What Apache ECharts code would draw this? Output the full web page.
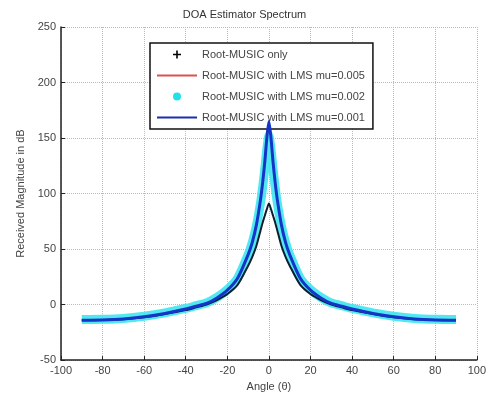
<!DOCTYPE html>
<html>
<head>
<meta charset="utf-8">
<script src="https://cdn.jsdelivr.net/npm/echarts@6/dist/echarts.min.js"></script>
<style>
  html, body { margin: 0; padding: 0; background: #fff; }
  #chart { width: 489px; height: 397px; }
</style>
</head>
<body>
<div id="chart"></div>
<script>
// angle samples (deg)
var angles = [-90, -80, -70, -60, -50, -40, -35, -30, -25, -20, -15, -10, -8, -6, -4, -3, -2, -1, 0,
  1, 2, 3, 4, 6, 8, 10, 15, 20, 25, 30, 35, 40, 50, 60, 70, 80, 90]

// magnitudes in dB
var rootOnly = [-14, -13.8, -13.2, -11.5, -8.5, -5, -2.5, 0, 4, 9.5, 18, 35, 43, 53, 67, 74, 80, 86, 91,
  86, 80, 74, 67, 53, 43, 35, 18, 9.5, 4, 0, -2.5, -5, -8.5, -11.5, -13.2, -13.8, -14]
var mu005 = [-14, -13.8, -13, -11, -8, -4, -1.5, 1, 6, 13, 24, 45, 56, 72, 95, 110, 128, 150, 163,
  150, 128, 110, 95, 72, 56, 45, 24, 13, 6, 1, -1.5, -4, -8, -11, -13, -13.8, -14]
var mu002 = [-13.5, -13.3, -12.5, -10.5, -7.5, -3.5, -1, 1.5, 6.5, 13.5, 24, 45, 56, 71, 92, 106, 122, 140, 152,
  140, 122, 106, 92, 71, 56, 45, 24, 13.5, 6.5, 1.5, -1, -3.5, -7.5, -10.5, -12.5, -13.3, -13.5]
var mu001 = [-14, -13.8, -13, -11, -8, -4, -1.5, 1, 6, 13, 24, 45, 56, 72, 95, 110, 128, 150, 165,
  150, 128, 110, 95, 72, 56, 45, 24, 13, 6, 1, -1.5, -4, -8, -11, -13, -13.8, -14]

var xTicks = { min: -100, max: 100, interval: 20 }
var yTicks = { min: -50, max: 250, interval: 50 }

function pairs(ys) {
  return angles.map(function (a, i) { return [a, ys[i]] })
}

var font = 'Liberation Sans, Arial, sans-serif'
var plusIcon = 'path://M4,0 L6,0 L6,4 L10,4 L10,6 L6,6 L6,10 L4,10 L4,6 L0,6 L0,4 L4,4 Z'
var lineIcon = 'path://M0,0 L40,0 L40,2 L0,2 Z'

var chart = echarts.init(document.getElementById('chart'))
chart.setOption({
  animation: false,
  backgroundColor: '#fff',
  title: {
    text: 'DOA Estimator Spectrum',
    left: 'center',
    top: 4,
    textStyle: { fontFamily: font, fontSize: 11, fontWeight: 'normal', color: '#333' }
  },
  legend: {
    orient: 'vertical',
    left: 150,
    top: 43,
    width: 243,
    padding: [6, 8, 6, 7],
    itemWidth: 40,
    itemHeight: 8,
    itemGap: 10,
    backgroundColor: '#fff',
    borderColor: '#111',
    borderWidth: 1.5,
    borderRadius: 0,
    textStyle: { fontFamily: font, fontSize: 11, color: '#444' },
    data: [
      { name: 'Root-MUSIC only', icon: plusIcon, itemStyle: { color: '#000' } },
      { name: 'Root-MUSIC with LMS mu=0.005', icon: lineIcon, itemStyle: { color: '#d9534f' } },
      { name: 'Root-MUSIC with LMS mu=0.002', icon: 'circle', itemStyle: { color: '#22e0e8' } },
      { name: 'Root-MUSIC with LMS mu=0.001', icon: lineIcon, itemStyle: { color: '#1a2fb0' } }
    ]
  },
  grid: { left: 61, right: 6, top: 27, bottom: 36 },
  xAxis: {
    type: 'value',
    min: xTicks.min,
    max: xTicks.max,
    interval: xTicks.interval,
    name: 'Angle (\u03b8)',
    nameLocation: 'middle',
    nameGap: 19,
    nameTextStyle: { fontFamily: font, fontSize: 11, color: '#444' },
    axisLine: { onZero: false, lineStyle: { color: '#222', width: 1.5 } },
    axisTick: { inside: true, length: 4, lineStyle: { color: '#222' } },
    axisLabel: { fontFamily: font, fontSize: 11, color: '#444', margin: 5 },
    splitLine: { show: true, lineStyle: { color: '#bbb', type: 'dotted' } }
  },
  yAxis: {
    type: 'value',
    min: yTicks.min,
    max: yTicks.max,
    interval: yTicks.interval,
    name: 'Received Magnitude in dB',
    nameLocation: 'middle',
    nameGap: 34,
    nameTextStyle: { fontFamily: font, fontSize: 11, color: '#444' },
    axisLine: { show: true, onZero: false, lineStyle: { color: '#222', width: 1.5 } },
    axisTick: { show: true, inside: true, length: 4, lineStyle: { color: '#222' } },
    axisLabel: { fontFamily: font, fontSize: 11, color: '#444', margin: 5 },
    splitLine: { show: true, lineStyle: { color: '#bbb', type: 'dotted' } }
  },
  series: [
    {
      name: 'Root-MUSIC with LMS mu=0.005',
      type: 'line',
      data: pairs(mu005),
      smooth: 0.25,
      showSymbol: false,
      lineStyle: { color: '#d9534f', width: 2 },
      itemStyle: { color: '#d9534f' },
      z: 1
    },
    {
      name: 'Root-MUSIC with LMS mu=0.002',
      type: 'line',
      data: pairs(mu002),
      smooth: 0.25,
      showSymbol: false,
      lineStyle: { color: '#3ee6f0', width: 9, opacity: 0.9 },
      itemStyle: { color: '#22e0e8' },
      z: 2
    },
    {
      name: 'Root-MUSIC only',
      type: 'line',
      data: pairs(rootOnly),
      smooth: 0.25,
      showSymbol: false,
      lineStyle: { color: '#0a2030', width: 2 },
      itemStyle: { color: '#000' },
      z: 3
    },
    {
      name: 'Root-MUSIC with LMS mu=0.001',
      type: 'line',
      data: pairs(mu001),
      smooth: 0.25,
      showSymbol: false,
      lineStyle: { color: '#1535c8', width: 3 },
      itemStyle: { color: '#1a2fb0' },
      z: 4
    }
  ]
})
</script>
</body>
</html>
